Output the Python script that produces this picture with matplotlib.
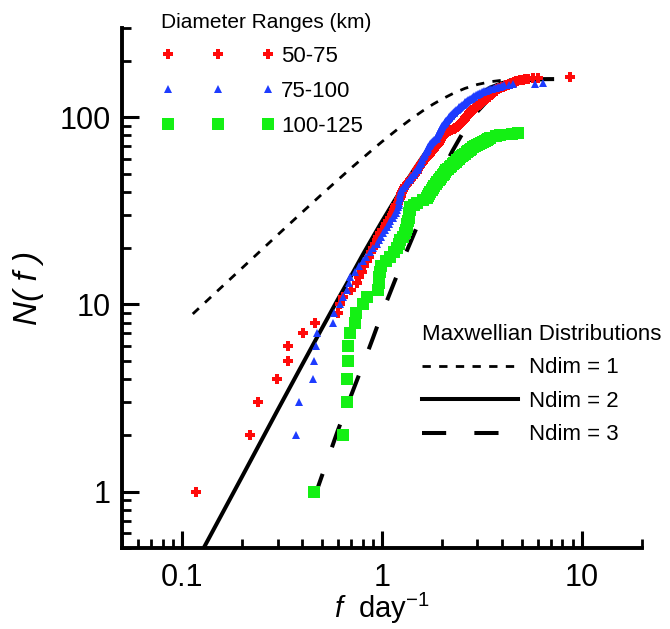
import numpy as np
import matplotlib.pyplot as plt
from matplotlib.ticker import LogLocator, NullFormatter

plt.rcParams['font.family'] = ['Liberation Sans', 'DejaVu Sans']
plt.rcParams['mathtext.fontset'] = 'custom'
plt.rcParams['mathtext.rm'] = 'Liberation Sans'
plt.rcParams['mathtext.it'] = 'Liberation Sans:italic'

# sorted frequencies (day^-1); N(f) is the cumulative rank
f_50_75 = [0.117, 0.219, 0.240, 0.299, 0.339, 0.339, 0.403, 0.462, 0.603, 0.615,
           0.64, 0.70, 0.75, 0.77, 0.79, 0.815, 0.84, 0.86, 0.88, 0.90,
           0.92, 0.944, 0.96, 0.98, 1.00, 1.03, 1.05, 1.07, 1.10, 1.12,
           1.135, 1.15, 1.165, 1.18, 1.20, 1.215, 1.23, 1.24, 1.25, 1.26,
           1.27, 1.29, 1.31, 1.33, 1.36, 1.38, 1.40, 1.43, 1.45, 1.47,
           1.49, 1.50, 1.52, 1.54, 1.55, 1.57, 1.58, 1.60, 1.62, 1.64,
           1.66, 1.69, 1.71, 1.74, 1.76, 1.78, 1.80, 1.82, 1.84, 1.86,
           1.88, 1.90, 1.92, 1.93, 1.95, 1.96, 1.97, 1.98, 2.00, 2.03,
           2.06, 2.09, 2.12, 2.14, 2.16, 2.22, 2.28, 2.33, 2.37, 2.40,
           2.43, 2.46, 2.49, 2.51, 2.53, 2.55, 2.57, 2.59, 2.61, 2.63,
           2.65, 2.67, 2.69, 2.71, 2.73, 2.75, 2.77, 2.80, 2.82, 2.85,
           2.88, 2.91, 2.94, 2.97, 3.00, 3.03, 3.06, 3.09, 3.12, 3.15,
           3.18, 3.21, 3.24, 3.27, 3.30, 3.33, 3.36, 3.39, 3.42, 3.45,
           3.48, 3.51, 3.53, 3.55, 3.58, 3.61, 3.64, 3.67, 3.70, 3.74,
           3.78, 3.82, 3.86, 3.90, 3.97, 4.04, 4.11, 4.18, 4.25, 4.33,
           4.40, 4.47, 4.53, 4.59, 4.65, 4.70, 4.76, 4.90, 5.05, 5.20,
           5.40, 5.70, 6.00, 8.70]
f_75_100 = [0.372, 0.385, 0.452, 0.457, 0.468, 0.473, 0.569, 0.575, 0.617,
            0.64, 0.67, 0.68, 0.69, 0.73, 0.765, 0.80, 0.835, 0.87, 0.905,
            0.94, 0.965, 0.99, 1.01, 1.035, 1.06, 1.08, 1.10, 1.13, 1.15,
            1.17, 1.19, 1.20, 1.21, 1.215, 1.22, 1.225, 1.23, 1.235, 1.24,
            1.25, 1.28, 1.30, 1.32, 1.34, 1.36, 1.38, 1.40, 1.43, 1.45,
            1.47, 1.50, 1.51, 1.52, 1.53, 1.545, 1.56, 1.57, 1.58, 1.59,
            1.60, 1.62, 1.63, 1.645, 1.66, 1.67, 1.68, 1.69, 1.70, 1.715,
            1.73, 1.74, 1.76, 1.78, 1.80, 1.83, 1.855, 1.88, 1.89, 1.90,
            1.91, 1.92, 1.93, 1.94, 1.95, 1.96, 1.97, 1.98, 1.99, 2.00,
            2.02, 2.04, 2.06, 2.07, 2.08, 2.10, 2.12, 2.14, 2.16, 2.17,
            2.19, 2.21, 2.22, 2.24, 2.26, 2.28, 2.30, 2.32, 2.35, 2.37,
            2.39, 2.42, 2.44, 2.47, 2.49, 2.51, 2.54, 2.56, 2.59, 2.61,
            2.64, 2.66, 2.69, 2.72, 2.75, 2.78, 2.81, 2.84, 2.87, 2.90,
            2.94, 2.98, 3.02, 3.06, 3.10, 3.15, 3.20, 3.25, 3.30, 3.38,
            3.46, 3.54, 3.62, 3.70, 3.80, 3.90, 4.00, 4.10, 4.30, 4.50,
            5.80, 6.40]
f_100_125 = [0.457, 0.638, 0.668, 0.668, 0.676, 0.676, 0.692, 0.733, 0.74, 0.80,
             0.84, 0.96, 0.97, 0.97, 0.98, 0.99, 1.05, 1.10, 1.15, 1.19,
             1.21, 1.23, 1.28, 1.30, 1.32, 1.33, 1.34, 1.35, 1.36, 1.365,
             1.37, 1.375, 1.38, 1.45, 1.50, 1.60, 1.67, 1.70, 1.72, 1.74,
             1.77, 1.80, 1.83, 1.86, 1.89, 1.92, 1.95, 1.98, 2.01, 2.04,
             2.07, 2.10, 2.14, 2.18, 2.22, 2.26, 2.30, 2.34, 2.38, 2.42,
             2.45, 2.50, 2.55, 2.60, 2.65, 2.70, 2.75, 2.80, 2.85, 2.92,
             2.99, 3.06, 3.13, 3.20, 3.27, 3.34, 3.41, 3.47, 3.70, 3.89,
             4.47, 4.80]
first_rank_50_75 = 1
first_rank_75_100 = 2
first_rank_100_125 = 1

# Maxwellian curves, points
f_ndim1 = [0.113, 0.15, 0.2, 0.3, 0.4, 0.5, 0.6, 0.7, 0.8, 0.9, 1.0, 1.2, 1.4,
           1.6, 1.8, 2.0, 2.3, 2.6, 3.0, 3.5, 4.0, 4.5, 5.0, 6.0, 7.1]
n_ndim1 = [8.9, 11.8, 15.7, 23.5, 31.2, 38.8, 46.2, 53.5, 60.5, 67.4, 74.1, 86.6, 98.0,
           108.3, 117.4, 125.2, 135.1, 142.7, 149.7, 155.0, 157.8, 159.1, 159.7, 160.0, 160.0]
f_ndim2 = [0.12, 0.2, 0.3, 0.4, 0.5, 0.6, 0.7, 0.8, 0.9, 1.0, 1.15, 1.3, 1.45,
           1.6, 1.8, 2.0, 2.25, 2.5, 2.75, 3.0, 3.5, 4.0, 4.5, 5.0, 6.0, 7.1]
n_ndim2 = [0.439, 1.21, 2.72, 4.80, 7.44, 10.6, 14.2, 18.4, 22.9, 27.8, 35.6, 44.0, 52.8,
           61.7, 73.7, 85.3, 99.0, 111.3, 122.1, 131.2, 144.5, 152.4, 156.6, 158.6, 159.8, 160.0]
f_ndim3 = [0.46, 0.6, 0.7, 0.8, 0.9, 1.0, 1.15, 1.3, 1.6, 2.0, 2.25, 2.5, 2.75,
           3.0, 3.5, 4.0, 4.5, 5.0, 6.0, 7.1]
n_ndim3 = [0.94, 2.11, 3.26, 4.72, 6.6, 8.98, 13.1, 18.2, 30.8, 51.6, 66.0, 80.4, 94.3,
           107.2, 128.3, 142.9, 151.6, 156.3, 159.5, 160.0]

fig = plt.figure(figsize=(6.7, 6.29), dpi=100)
ax = fig.add_axes([122 / 670, 81 / 629, 520 / 670, 520 / 629])

l1, = ax.plot(f_ndim1, n_ndim1, color='black', lw=2.0, dashes=(3, 3), label='Ndim = 1')
l2, = ax.plot(f_ndim2, n_ndim2, color='black', lw=2.9, label='Ndim = 2')
l3, = ax.plot(f_ndim3, n_ndim3, color='black', lw=2.9, dashes=(6, 7), label='Ndim = 3')

n_50_75 = np.arange(first_rank_50_75, first_rank_50_75 + len(f_50_75))
n_75_100 = np.arange(first_rank_75_100, first_rank_75_100 + len(f_75_100))
n_100_125 = np.arange(first_rank_100_125, first_rank_100_125 + len(f_100_125))

p1, = ax.plot(f_50_75, n_50_75, ls='none', marker='P', ms=7.5, mew=0, color='#ff0a0a', label='50-75')
p2, = ax.plot(f_75_100, n_75_100, ls='none', marker='^', ms=6, mew=0, color='#1e3cff', label='75-100')
p3, = ax.plot(f_100_125, n_100_125, ls='none', marker='s', ms=8, mew=0, color='#14f014', label='100-125')

ax.set_xscale('log')
ax.set_yscale('log')
ax.set_xlim(0.05, 20)
ax.set_ylim(0.5, 300)
ax.set_xticks([0.1, 1, 10], labels=['0.1', '1', '10'])
ax.set_yticks([1, 10, 100], labels=['1', '10', '100'])
for axis in (ax.xaxis, ax.yaxis):
    axis.set_minor_locator(LogLocator(base=10, subs=np.arange(2, 10)))
    axis.set_minor_formatter(NullFormatter())

for s in ['top', 'right']:
    ax.spines[s].set_visible(False)
for s in ['left', 'bottom']:
    ax.spines[s].set_linewidth(2.8)
ax.tick_params(which='major', direction='in', length=12, width=2.2, labelsize=22, pad=8)
ax.tick_params(axis='x', which='major', pad=11)
ax.tick_params(which='minor', direction='in', length=6.5, width=2.0)

ax.set_xlabel(r'$\mathit{f}$  day$^{-1}$', fontsize=21)
ax.xaxis.set_label_coords(0.5, -0.083)
ax.set_ylabel('N( f )', fontsize=24, fontstyle='italic')
ax.yaxis.set_label_coords(-0.15, 0.5)

leg1 = ax.legend(handles=[p1, p2, p3], title='Diameter Ranges (km)', numpoints=3,
                 loc='upper left', bbox_to_anchor=(161 / 670, 1 - 13 / 629),
                 bbox_transform=fig.transFigure, frameon=False, fontsize=16,
                 title_fontsize=15, handlelength=5.1, handletextpad=0.3,
                 labelspacing=0.63, borderpad=0, borderaxespad=0, alignment='left')
ax.add_artist(leg1)
ax.legend(handles=[l1, l2, l3], title='Maxwellian Distributions',
          loc='upper left', bbox_to_anchor=(422 / 670, 1 - 324 / 629),
          bbox_transform=fig.transFigure, frameon=False, fontsize=16,
          title_fontsize=16, handlelength=4.3, handletextpad=0.5,
          labelspacing=0.56, borderpad=0, borderaxespad=0, alignment='left')

fig.savefig('out.png', dpi=100)
